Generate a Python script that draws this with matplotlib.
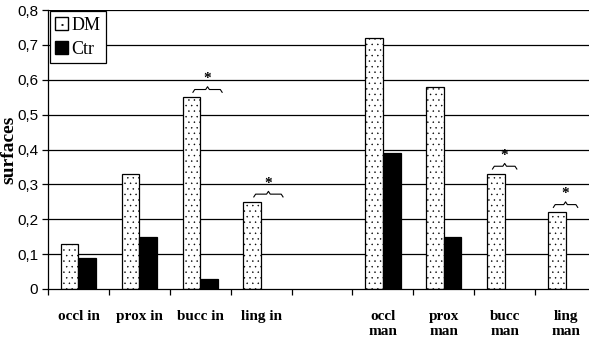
import numpy as np
import matplotlib.pyplot as plt
from matplotlib.patches import Patch

categories = ["occl in", "prox in", "bucc in", "ling in", "",
              "occl\nman", "prox\nman", "bucc\nman", "ling\nman"]
dm = [0.13, 0.33, 0.55, 0.25, np.nan, 0.72, 0.58, 0.33, 0.22]
ctr = [0.09, 0.15, 0.03, np.nan, np.nan, 0.39, 0.15, np.nan, np.nan]
signif = [2, 3, 7, 8]  # categories marked with *
yticks = [0, 0.1, 0.2, 0.3, 0.4, 0.5, 0.6, 0.7, 0.8]
ytick_labels = ["0", "0,1", "0,2", "0,3", "0,4", "0,5", "0,6", "0,7", "0,8"]

plt.rcParams['hatch.linewidth'] = 0.3

fig = plt.figure(figsize=(5.89, 3.41), dpi=100)
ax = fig.add_axes([48 / 589, 1 - 289 / 341, 548 / 589, 279 / 341])

x = np.arange(len(categories))
w = 0.29
for v in yticks[1:]:
    ax.axhline(v, color='black', lw=0.9, zorder=0)

ax.bar(x - w / 2, dm, w, color='white', edgecolor='black', hatch='...',
       lw=0.9, zorder=2)
ax.bar(x + w / 2, ctr, w, color='black', edgecolor='black', lw=0.9, zorder=2)

# braces with asterisks
for i in signif:
    top = dm[i]
    xc = i + (0.12 if i < 4 else 0.0)
    half = 0.24 if i < 4 else 0.2
    yb = top + 0.022
    h = 0.008
    xs = [xc - half, xc - half + 0.03, xc - 0.03, xc, xc + 0.03, xc + half - 0.03, xc + half]
    ys = [yb - h, yb, yb, yb + h, yb, yb, yb - h]
    ax.plot(xs, ys, color='black', lw=0.8, zorder=3)
    ax.text(xc, yb + 0.012, "*", ha='center', va='bottom', fontsize=11,
            family='Liberation Serif', fontweight='bold')

ax.set_xlim(-0.5, len(categories) - 0.5)
ax.set_ylim(0, 0.8)
ax.set_yticks(yticks)
ax.set_yticklabels(ytick_labels, family='Liberation Sans', fontsize=11)
ax.tick_params(axis='y', direction='out', length=4, width=0.9, pad=3)

ax.set_xticks(x)
ax.set_xticklabels(categories, family='Liberation Serif', fontweight='bold',
                   fontsize=11, linespacing=1.2, va='top')
ax.set_xticks(np.arange(len(categories) + 1) - 0.5, minor=True)
ax.tick_params(axis='x', which='major', length=0, pad=15)
ax.tick_params(axis='x', which='minor', direction='out', length=4, width=0.9)

for s in ['top', 'right']:
    ax.spines[s].set_visible(False)
for s in ['left', 'bottom']:
    ax.spines[s].set_linewidth(0.9)

ax.set_ylabel("surfaces", family='Liberation Serif', fontweight='bold',
              fontsize=14)
ax.yaxis.set_label_coords(-0.055, 0.5)

handles = [Patch(facecolor='white', edgecolor='black', hatch='..', label='DM'),
           Patch(facecolor='black', edgecolor='black', label='Ctr')]
leg = ax.legend(handles=handles, loc='upper left', bbox_to_anchor=(0.003, 0.995),
                prop={'family': 'Liberation Serif', 'size': 13},
                fancybox=False, framealpha=1, edgecolor='black',
                handlelength=0.7, handleheight=0.7, handletextpad=0.2,
                borderpad=0.3, labelspacing=0.4, borderaxespad=0)
leg.get_frame().set_linewidth(0.9)

fig.savefig("out.png", dpi=100)
